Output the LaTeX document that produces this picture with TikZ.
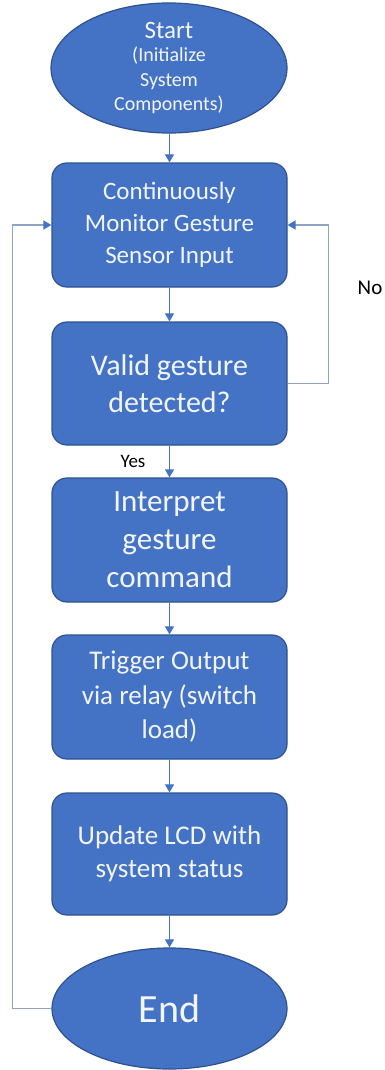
\documentclass[tikz,border=0pt]{standalone}
\usepackage{fontspec}
\setmainfont{Carlito}
\usetikzlibrary{shapes.geometric,arrows.meta}
\definecolor{boxfill}{HTML}{4472C4}
\definecolor{boxline}{HTML}{2F528F}
\definecolor{loopline}{HTML}{8FA2C6}
\definecolor{txt}{HTML}{F2F6FC}
\tikzset{
  procbox/.style={draw=boxline, line width=1.2pt, fill=boxfill, rounded corners=15pt,
    minimum width=235pt, minimum height=124pt, inner sep=0pt, align=center, text=txt},
  termnode/.style={ellipse, draw=boxline, line width=1.2pt, fill=boxfill,
    inner sep=0pt, align=center, text=txt},
  flow/.style={draw=boxfill, line width=1pt, -{Triangle[length=8pt,width=9pt]}},
  backflow/.style={draw=loopline, line width=1.6pt, -{Triangle[length=8pt,width=9pt,color=boxfill]}},
  lbl/.style={text=black, inner sep=0pt}
}
\begin{document}
\begin{tikzpicture}[x=1pt,y=-1pt]
\useasboundingbox (0,0) rectangle (385,1070);
\fill[white] (0,0) rectangle (385,1070);
\node[termnode, minimum width=236pt, minimum height=130pt, font=\fontsize{20}{24.5}\selectfont] (start) at (169,68)
  {{\fontsize{25}{29}\selectfont Start}\\[-1pt](Initialize\\System\\Components)};
\node[procbox, font=\fontsize{25}{32}\selectfont] (b1) at (169.5,225)
  {Continuously\\Monitor Gesture\\Sensor Input};
\node[procbox, minimum height=123pt, font=\fontsize{30}{37}\selectfont] (b2) at (169.5,383.5)
  {Valid gesture\\detected?};
\node[procbox, font=\fontsize{31}{38}\selectfont] (b3) at (169.5,540)
  {Interpret\\gesture\\command};
\node[procbox, font=\fontsize{27}{34.5}\selectfont] (b4) at (169.5,697)
  {Trigger Output\\via relay (switch\\load)};
\node[procbox, minimum height=122pt, font=\fontsize{27}{33}\selectfont] (b5) at (169.5,854)
  {Update LCD with\\system status};
\node[termnode, minimum width=235pt, minimum height=121pt, font=\fontsize{40}{46}\selectfont] (endn) at (169.5,1008.5)
  {End};
\node[lbl, font=\fontsize{19}{21}\selectfont] (yes) at (133,461) {Yes};
\node[lbl, font=\fontsize{21}{23}\selectfont] (no) at (370,288) {No};
\draw[flow] (b1.north |- start.south) -- (b1.north);
\draw[flow] (b1) -- (b2);
\draw[flow] (b2) -- (b3);
\draw[flow] (b3) -- (b4);
\draw[flow] (b4) -- (b5);
\draw[flow] (b5) -- (endn);
\draw[backflow] (endn.west) -- ++(-39,0) |- (b1.west);
\draw[backflow] (b2.east) -- ++(41,0) |- (b1.east);
\end{tikzpicture}
\end{document}
